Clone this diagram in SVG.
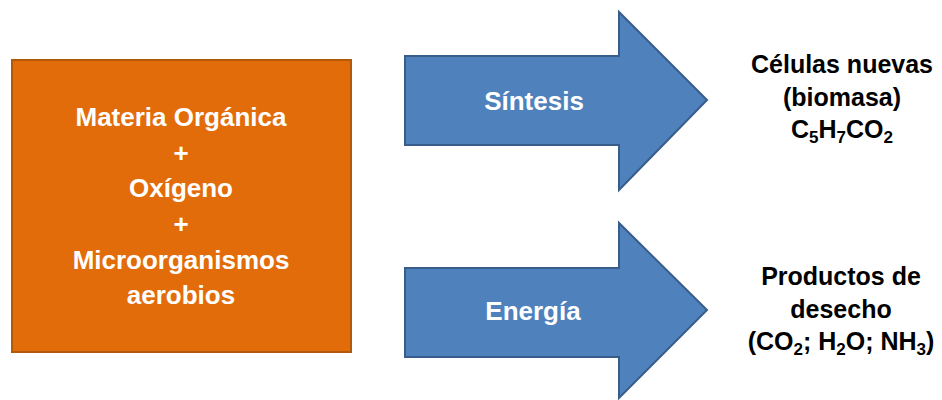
<svg xmlns="http://www.w3.org/2000/svg" width="942" height="400" viewBox="0 0 942 400">
<style>
.box{fill:#E36C0A;stroke:#B25A0C;stroke-width:2}
.arr{fill:#4F81BD;stroke:#385D8A;stroke-width:2;stroke-linejoin:miter}
.w{font-family:"Liberation Sans",Arial,sans-serif;font-weight:bold;font-size:26px;fill:#FFFFFF;text-anchor:middle}
.k{font-family:"Liberation Sans",Arial,sans-serif;font-weight:bold;font-size:25px;fill:#000000;text-anchor:middle}
.sub{font-size:17px}
</style>
<rect width="942" height="400" fill="#FFFFFF"/>
<g id="reactivos">
<rect class="box" x="12" y="60" width="339" height="292"/>
<text class="w" x="181" y="126">Materia Orgánica</text>
<text class="w" x="181" y="162">+</text>
<text class="w" x="181" y="197">Oxígeno</text>
<text class="w" x="181" y="233">+</text>
<text class="w" x="181" y="269">Microorganismos</text>
<text class="w" x="181" y="304">aerobios</text>
</g>
<g id="connectors">
<g id="sintesis">
<polygon class="arr" points="405,56 619,56 619,12 707,100 619,190 619,145 405,145"/>
<text class="w" x="534" y="110">Síntesis</text>
</g>
<g id="energia">
<polygon class="arr" points="405,268 619,268 619,223 707,310 619,398 619,357 405,357"/>
<text class="w" x="533" y="320">Energía</text>
</g>
</g>
<g id="celulas">
<text class="k" x="842" y="73">Células nuevas</text>
<text class="k" x="842" y="106">(biomasa)</text>
<text class="k" x="842" y="138">C<tspan class="sub" dy="5">5</tspan><tspan dy="-5">H</tspan><tspan class="sub" dy="5">7</tspan><tspan dy="-5">CO</tspan><tspan class="sub" dy="5">2</tspan></text>
</g>
<g id="productos">
<text class="k" x="841" y="285">Productos de</text>
<text class="k" x="841" y="318">desecho</text>
<text class="k" x="841" y="350">(CO<tspan class="sub" dy="5">2</tspan><tspan dy="-5">; H</tspan><tspan class="sub" dy="5">2</tspan><tspan dy="-5">O; NH</tspan><tspan class="sub" dy="5">3</tspan><tspan dy="-5">)</tspan></text>
</g>
</svg>
